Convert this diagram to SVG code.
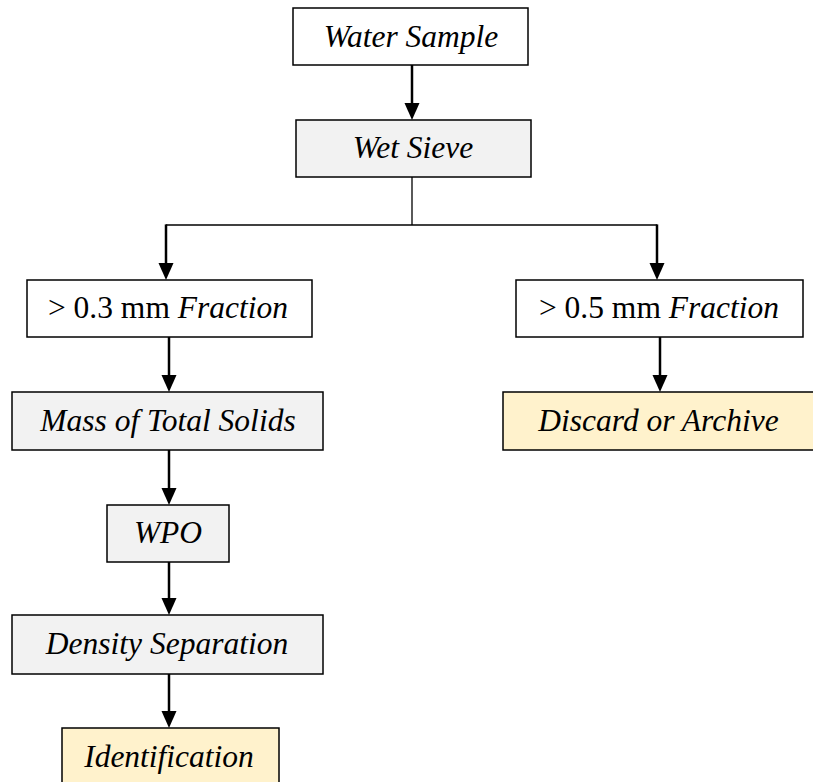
<svg xmlns="http://www.w3.org/2000/svg" width="813" height="782" viewBox="0 0 813 782">
<style>
.box{stroke:#000;stroke-width:1.5}
.w{fill:#fff}
.g{fill:#f2f2f2}
.y{fill:#fff2cc}
text{font-family:"Liberation Serif","Times New Roman",serif;font-size:31.5px;fill:#000;text-anchor:middle}
.i{font-style:italic}
.arr{stroke:#000;stroke-width:2.5;fill:none}
.ln{stroke:#000;stroke-width:1.3;fill:none}
.hd{fill:#000}
</style>
<rect width="813" height="782" fill="#fff"/>
<g id="connectors">
<line class="arr" x1="412" y1="65" x2="412" y2="106"/>
<polygon class="hd" points="404.5,103 419.5,103 412,120"/>
<polyline class="ln" points="412,177 412,225"/>
<polyline class="ln" points="166,225 657,225"/>
<line class="arr" x1="166" y1="224.4" x2="166" y2="265"/>
<polygon class="hd" points="158.5,263 173.5,263 166,280"/>
<line class="arr" x1="657" y1="224.4" x2="657" y2="265"/>
<polygon class="hd" points="649.5,263 664.5,263 657,280"/>
<line class="arr" x1="169" y1="337" x2="169" y2="378"/>
<polygon class="hd" points="161.5,375 176.5,375 169,392"/>
<line class="arr" x1="660" y1="337" x2="660" y2="378"/>
<polygon class="hd" points="652.5,375 667.5,375 660,392"/>
<line class="arr" x1="169" y1="450" x2="169" y2="490"/>
<polygon class="hd" points="161.5,488 176.5,488 169,505"/>
<line class="arr" x1="169" y1="562" x2="169" y2="600"/>
<polygon class="hd" points="161.5,598 176.5,598 169,615"/>
<line class="arr" x1="169" y1="674" x2="169" y2="714"/>
<polygon class="hd" points="161.5,711 176.5,711 169,728"/>
</g>
<g id="water-sample"><rect class="box w" x="293" y="8" width="235" height="57"/><text class="i" x="411" y="47">Water Sample</text></g>
<g id="wet-sieve"><rect class="box g" x="296" y="120" width="235" height="57"/><text class="i" x="413" y="158">Wet Sieve</text></g>
<g id="fraction-03"><rect class="box w" x="27" y="280" width="285" height="57"/><text x="168" y="318">&gt; 0.3 mm <tspan class="i">Fraction</tspan></text></g>
<g id="fraction-05"><rect class="box w" x="516" y="280" width="287" height="57"/><text x="659" y="318">&gt; 0.5 mm <tspan class="i">Fraction</tspan></text></g>
<g id="mass-total-solids"><rect class="box g" x="12" y="392" width="311" height="58"/><text class="i" x="168" y="431">Mass of Total Solids</text></g>
<g id="discard-archive"><rect class="box y" x="503" y="392" width="312" height="58"/><text class="i" x="658.5" y="431">Discard or Archive</text></g>
<g id="wpo"><rect class="box g" x="107" y="505" width="122" height="57"/><text class="i" x="168" y="543">WPO</text></g>
<g id="density-separation"><rect class="box g" x="12" y="615" width="311" height="59"/><text class="i" x="167" y="654">Density Separation</text></g>
<g id="identification"><rect class="box y" x="62" y="728" width="217" height="60"/><text class="i" x="169" y="767">Identification</text></g>
</svg>
